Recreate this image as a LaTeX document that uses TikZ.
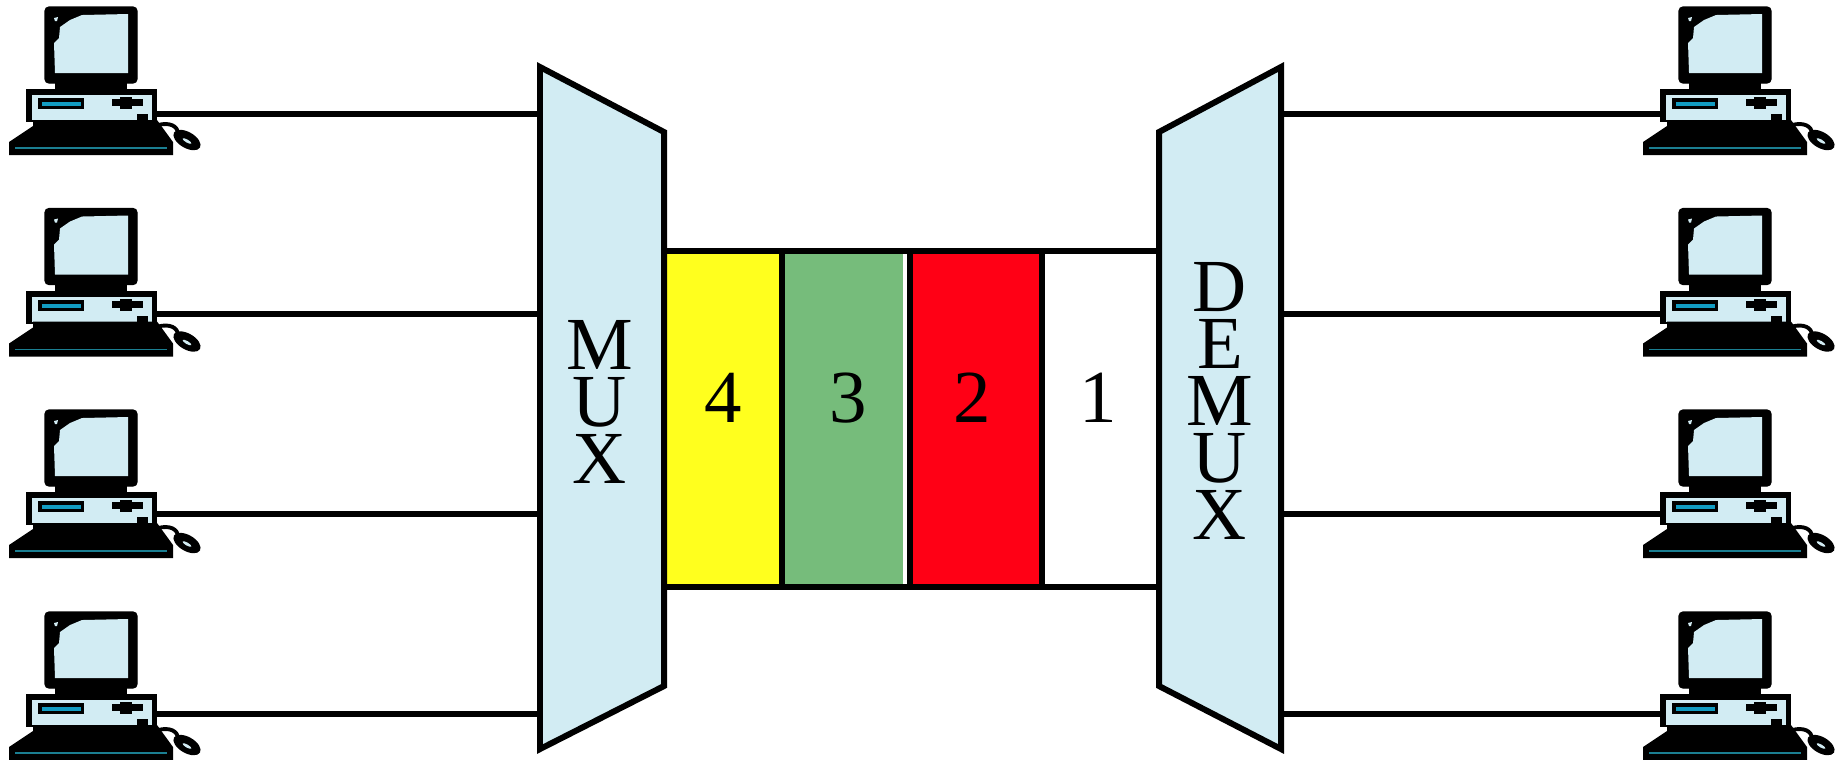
\documentclass[tikz,border=0pt]{standalone}
\usepackage{fontspec}
\setmainfont{Liberation Serif}
\definecolor{paleblue}{HTML}{D2ECF3}
\definecolor{drivecyan}{HTML}{129CC2}
\definecolor{keyteal}{HTML}{1B7F92}
\definecolor{slotyellow}{HTML}{FFFF1E}
\definecolor{slotgreen}{HTML}{76BC7B}
\definecolor{slotred}{HTML}{FF0015}
\tikzset{
  wire/.style={line width=1.7pt},
  box/.style={draw=black,line width=1.7pt,line join=miter},
  bigtext/.style={font=\fontsize{21.3}{16.2}\selectfont,align=center,inner sep=0pt},
  pics/computer/.style={code={
    \filldraw[black,rounded corners=1.2pt] (45,7) rectangle (137,83);
    \fill[paleblue] (128,14) -- (128,73) -- (55,73) -- (54,43) -- (59,38) -- (60,27) -- (70,20) -- (82,15) -- cycle;
    \fill[paleblue] (54,18) -- (58,17) -- (57,21) -- (55,21) -- cycle;
    \fill (55,83) rectangle (127,90);
    \fill (26,89) rectangle (157,122);
    \fill[paleblue] (32,95) rectangle (152,120);
    \fill (38,98) rectangle (84,109);
    \fill[drivecyan] (42,102) rectangle (81,106);
    \fill (112,99) rectangle (143,106);
    \fill (120,97) rectangle (132,109);
    \fill (137,114) rectangle (148,122);
    \fill (9,142) -- (33,126) -- (33,120) -- (157,120) -- (173,142) -- (173,155) -- (9,155) -- cycle;
    \draw[keyteal,line width=0.5pt] (15,148) -- (167,148);
    \draw[line width=1.1pt] (158,125) .. controls (170,122) and (178,126) .. (178,134);
    \fill[rotate around={-30:(187,140)}] (187,140) ellipse (15 and 8);
    \fill[paleblue,rotate around={-30:(187,141)}] (187,141) ellipse (5 and 1.5);
    \coordinate (-west) at (26,114);
    \coordinate (-east) at (157,114);
  }}
}
\begin{document}
\begin{tikzpicture}[x=0.01cm,y=-0.01cm]
\useasboundingbox (0,0) rectangle (1843,759);

% computers on both sides
\foreach \row/\dy in {1/0,2/201.5,3/403,4/605}{
  \pic (pcL\row) at (0,\dy) {computer};
  \pic (pcR\row) at (1634,\dy) {computer};
}

% mux and demux ports
\coordinate (muxA) at (540,67);
\coordinate (muxB) at (664,132);
\coordinate (muxC) at (664,686);
\coordinate (muxD) at (540,749);
\coordinate (demuxA) at (1281,67);
\coordinate (demuxB) at (1159,132);
\coordinate (demuxC) at (1159,686);
\coordinate (demuxD) at (1281,749);
\foreach \row/\y in {1/114,2/314,3/514,4/714}{
  \coordinate (muxport\row) at (540,\y);
  \coordinate (demuxport\row) at (1281,\y);
  \draw[wire] (pcL\row-east |- muxport\row) -- (muxport\row);
  \draw[wire] (demuxport\row) -- (pcR\row-west |- demuxport\row);
}

% the four slots
\fill[slotyellow] (666,251) rectangle (779,587);
\fill[slotgreen] (785,251) rectangle (903,587);
\fill[slotred] (913,251) rectangle (1039,587);
\draw[wire] (muxB |- 0,251) -- (demuxB |- 0,251);
\draw[wire] (muxB |- 0,587) -- (demuxB |- 0,587);
\draw[wire] (782,251) -- (782,587);
\draw[wire] (910,251) -- (910,587);
\draw[wire] (1042,251) -- (1042,587);

\filldraw[box,fill=paleblue] (muxA) -- (muxB) -- (muxC) -- (muxD) -- cycle;
\filldraw[box,fill=paleblue] (demuxA) -- (demuxB) -- (demuxC) -- (demuxD) -- cycle;

\node[bigtext] (muxlabel) at (600,402) {M\\U\\X};
\node[bigtext] (demuxlabel) at (1220,401) {D\\E\\M\\U\\X};
\node[bigtext] (four) at (723,398) {4};
\node[bigtext] (three) at (848,398) {3};
\node[bigtext] (two) at (972,398) {2};
\node[bigtext] (one) at (1098,398) {1};
\end{tikzpicture}
\end{document}
